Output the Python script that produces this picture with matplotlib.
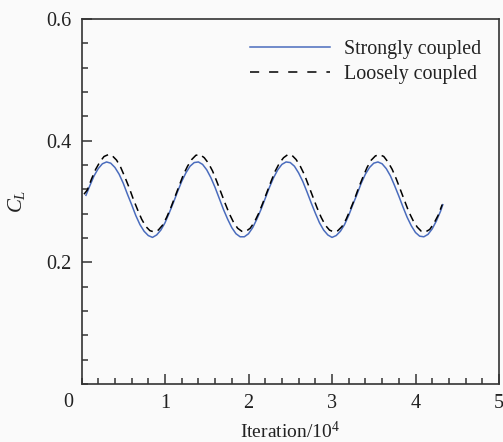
import matplotlib
matplotlib.use("Agg")
import matplotlib.pyplot as plt
from matplotlib.lines import Line2D
from matplotlib.ticker import MultipleLocator

plt.rcParams['font.family'] = ['Liberation Serif', 'DejaVu Serif']
plt.rcParams['mathtext.fontset'] = 'custom'
plt.rcParams['mathtext.rm'] = 'Liberation Serif'
plt.rcParams['mathtext.it'] = 'Liberation Serif:italic'

# Iteration / 10^4
x_strong = [0.05, 0.10, 0.15, 0.20, 0.25, 0.30, 0.35, 0.40, 0.45, 0.50,
            0.55, 0.60, 0.65, 0.70, 0.75, 0.80, 0.85, 0.90, 0.95, 1.00,
            1.05, 1.10, 1.15, 1.20, 1.25, 1.30, 1.35, 1.40, 1.45, 1.50,
            1.55, 1.60, 1.65, 1.70, 1.75, 1.80, 1.85, 1.90, 1.95, 2.00,
            2.05, 2.10, 2.15, 2.20, 2.25, 2.30, 2.35, 2.40, 2.45, 2.50,
            2.55, 2.60, 2.65, 2.70, 2.75, 2.80, 2.85, 2.90, 2.95, 3.00,
            3.05, 3.10, 3.15, 3.20, 3.25, 3.30, 3.35, 3.40, 3.45, 3.50,
            3.55, 3.60, 3.65, 3.70, 3.75, 3.80, 3.85, 3.90, 3.95, 4.00,
            4.05, 4.10, 4.15, 4.20, 4.25, 4.30, 4.33]
cl_strong = [0.309, 0.326, 0.342, 0.354, 0.362, 0.365, 0.363, 0.356, 0.345, 0.330,
             0.312, 0.295, 0.277, 0.262, 0.251, 0.244, 0.241, 0.245, 0.253, 0.265,
             0.281, 0.298, 0.316, 0.333, 0.347, 0.358, 0.364, 0.365, 0.361, 0.352,
             0.339, 0.323, 0.305, 0.287, 0.271, 0.257, 0.247, 0.242, 0.242, 0.247,
             0.257, 0.271, 0.287, 0.305, 0.323, 0.339, 0.352, 0.361, 0.365, 0.364,
             0.358, 0.347, 0.333, 0.316, 0.298, 0.281, 0.265, 0.253, 0.245, 0.241,
             0.244, 0.251, 0.262, 0.277, 0.295, 0.312, 0.330, 0.345, 0.356, 0.363,
             0.365, 0.362, 0.354, 0.342, 0.326, 0.309, 0.291, 0.274, 0.260, 0.249,
             0.243, 0.242, 0.246, 0.255, 0.268, 0.284, 0.296]

x_loose = [0.03, 0.07, 0.12, 0.17, 0.22, 0.27, 0.32, 0.37, 0.42, 0.47, 0.52,
           0.57, 0.62, 0.67, 0.72, 0.77, 0.82, 0.87, 0.92, 0.97, 1.02,
           1.07, 1.12, 1.17, 1.22, 1.27, 1.32, 1.37, 1.42, 1.47, 1.52,
           1.57, 1.62, 1.67, 1.72, 1.77, 1.82, 1.87, 1.92, 1.97, 2.02,
           2.07, 2.12, 2.17, 2.22, 2.27, 2.32, 2.37, 2.42, 2.47, 2.52,
           2.57, 2.62, 2.67, 2.72, 2.77, 2.82, 2.87, 2.92, 2.97, 3.02,
           3.07, 3.12, 3.17, 3.22, 3.27, 3.32, 3.37, 3.42, 3.47, 3.52,
           3.57, 3.62, 3.67, 3.72, 3.77, 3.82, 3.87, 3.92, 3.97, 4.02,
           4.07, 4.12, 4.17, 4.22, 4.27, 4.32]
cl_loose = [0.312, 0.319, 0.337, 0.353, 0.365, 0.374, 0.377, 0.375, 0.368, 0.356, 0.340,
            0.323, 0.304, 0.287, 0.271, 0.259, 0.252, 0.250, 0.253, 0.261, 0.274,
            0.290, 0.308, 0.326, 0.344, 0.358, 0.369, 0.376, 0.377, 0.372, 0.363,
            0.350, 0.333, 0.315, 0.297, 0.280, 0.266, 0.256, 0.251, 0.251, 0.256,
            0.266, 0.280, 0.297, 0.315, 0.333, 0.350, 0.363, 0.372, 0.377, 0.376,
            0.369, 0.358, 0.344, 0.326, 0.308, 0.290, 0.274, 0.261, 0.253, 0.250,
            0.252, 0.259, 0.271, 0.287, 0.304, 0.323, 0.340, 0.356, 0.368, 0.375,
            0.377, 0.374, 0.365, 0.353, 0.337, 0.319, 0.301, 0.283, 0.269, 0.258,
            0.251, 0.250, 0.254, 0.264, 0.277, 0.295]

series_labels = ["Strongly coupled", "Loosely coupled"]
x_ticks = [1, 2, 3, 4, 5]
y_ticks = [0.2, 0.4, 0.6]

BG = '#fafafa'
BLUE = '#4a6cbd'
DPI = 100
fig = plt.figure(figsize=(503 / DPI, 442 / DPI), dpi=DPI, facecolor=BG)
ax = fig.add_axes([81.5 / 503, 1 - 384 / 442, (499 - 81.5) / 503, (384 - 19) / 442])
ax.set_facecolor(BG)

lw = 1.1
ax.plot(x_strong, cl_strong, color=BLUE, lw=lw, solid_capstyle='butt')
ax.plot(x_loose, cl_loose, color='black', lw=lw, linestyle=(0, (5.2, 3.4)))

ax.set_xlim(0, 5)
ax.set_ylim(0, 0.6)
ax.set_xticks(x_ticks)
ax.set_yticks(y_ticks)
ax.set_yticklabels([f"{v:.1f}" for v in y_ticks])
ax.xaxis.set_minor_locator(MultipleLocator(0.2))
ax.yaxis.set_minor_locator(MultipleLocator(0.04))
ax.tick_params(which='both', direction='in', top=False, right=False,
               color='#333333', width=1.1, labelsize=14.5, labelcolor='#222222')
ax.tick_params(which='major', length=7.2, pad=7)
ax.tick_params(which='minor', length=4.3)
for s in ax.spines.values():
    s.set_color('#333333')
    s.set_linewidth(1.2)

ax.text(-0.032, -0.052, "0", transform=ax.transAxes, fontsize=14.5, color='#222222',
        ha='center', va='center')

ax.set_xlabel("Iteration/10$^4$", fontsize=14, color='#222222', labelpad=6)
ax.set_ylabel("$C_L$", fontsize=15, color='#222222', labelpad=14)

h1 = Line2D([], [], color=BLUE, lw=lw)
h2 = Line2D([], [], color='black', lw=lw, linestyle=(0, (6.0, 6.5)))
leg = ax.legend([h1, h2], series_labels, loc='upper right', frameon=False,
                fontsize=14.4, handlelength=4.0, handletextpad=0.67,
                labelspacing=0.32, bbox_to_anchor=(0.985, 0.976), borderaxespad=0.2)
for t in leg.get_texts():
    t.set_color('#222222')

fig.savefig("out.png", dpi=DPI, facecolor=BG)
